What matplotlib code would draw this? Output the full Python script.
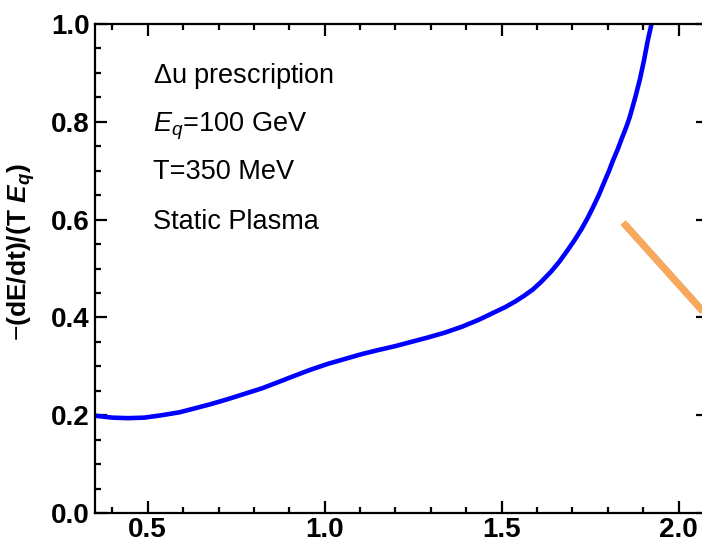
import numpy as np
import matplotlib.pyplot as plt
from matplotlib import patheffects as pe
from matplotlib.ticker import MultipleLocator, FormatStrFormatter

# fonts: Arial-like everywhere, math too
plt.rcParams['font.family'] = ['Liberation Sans', 'DejaVu Sans']
plt.rcParams['mathtext.fontset'] = 'custom'
plt.rcParams['mathtext.rm'] = 'Liberation Sans'
plt.rcParams['mathtext.it'] = 'Liberation Sans:italic'
plt.rcParams['mathtext.bf'] = 'Liberation Sans:bold'
plt.rcParams['mathtext.bfit'] = 'Liberation Sans:italic:bold'

# energy loss curve
x_loss = [0.351, 0.400, 0.444, 0.490, 0.540, 0.590, 0.633, 0.680, 0.727, 0.775,
          0.823, 0.870, 0.916, 0.960, 1.009, 1.057, 1.105, 1.150, 1.198, 1.245,
          1.292, 1.340, 1.388, 1.435, 1.481, 1.510, 1.537, 1.563, 1.588, 1.612,
          1.640, 1.663, 1.684, 1.705, 1.725, 1.742, 1.758, 1.775, 1.790, 1.803,
          1.814, 1.828, 1.840, 1.852, 1.862, 1.876, 1.890, 1.902, 1.913, 1.924, 1.935]
y_loss = [0.199, 0.195, 0.194, 0.195, 0.200, 0.206, 0.214, 0.223, 0.233, 0.244,
          0.255, 0.268, 0.281, 0.293, 0.305, 0.315, 0.325, 0.333, 0.341, 0.350,
          0.359, 0.369, 0.381, 0.395, 0.411, 0.421, 0.432, 0.444, 0.457, 0.473,
          0.494, 0.514, 0.535, 0.557, 0.580, 0.602, 0.625, 0.651, 0.677, 0.699,
          0.720, 0.744, 0.767, 0.789, 0.810, 0.846, 0.885, 0.925, 0.967, 1.002, 1.040]

# the orange stroke cut by the right edge
x_stroke = [1.843, 2.100]
y_stroke = [0.594, 0.387]

notes = [r'$\Delta$u prescription', r'$E_q$=100 GeV', 'T=350 MeV', 'Static Plasma']
note_y = [0.879, 0.781, 0.683, 0.581]

fig = plt.figure(figsize=(7.02, 5.44), dpi=100)
ax = fig.add_axes([95 / 702, 31 / 544, 613 / 702, 489 / 544])

ax.plot(x_loss, y_loss, color='#0000ff', lw=3.3, solid_capstyle='butt')
ax.plot(x_stroke, y_stroke, color='#f9a75a', lw=5, solid_capstyle='butt',
        path_effects=[pe.SimpleLineShadow(offset=(1.5, -1.5), shadow_color='gray', alpha=0.5),
                      pe.Normal()])

ax.set_xlim(0.351, 2.083)
ax.set_ylim(0, 1.0)

ax.xaxis.set_major_locator(MultipleLocator(0.5))
ax.xaxis.set_minor_locator(MultipleLocator(0.1))
ax.yaxis.set_major_locator(MultipleLocator(0.2))
ax.yaxis.set_minor_locator(MultipleLocator(0.05))
ax.xaxis.set_major_formatter(FormatStrFormatter('%.1f'))
ax.yaxis.set_major_formatter(FormatStrFormatter('%.1f'))

ax.tick_params(which='both', direction='in', top=True, right=True, width=1.6)
ax.tick_params(which='major', length=8.5)
ax.tick_params(which='minor', length=4.5)
ax.tick_params(axis='x', which='major', pad=3, labelsize=20)
ax.tick_params(axis='y', which='major', pad=4, labelsize=20)
for lab in ax.get_xticklabels() + ax.get_yticklabels():
    lab.set_fontweight('bold')
for sp in ax.spines.values():
    sp.set_linewidth(1.6)

ax.text(-0.12, 0.534, r'$-$(dE/dt)/(T $\mathbfit{E}_{\mathbfit{q}}$)', transform=ax.transAxes,
        rotation=90, ha='center', va='center', fontsize=19, fontweight='bold')

for s, yy in zip(notes, note_y):
    ax.text(0.095, yy, s, transform=ax.transAxes, ha='left', va='baseline', fontsize=19.5)

fig.savefig('out.png', dpi=100)
